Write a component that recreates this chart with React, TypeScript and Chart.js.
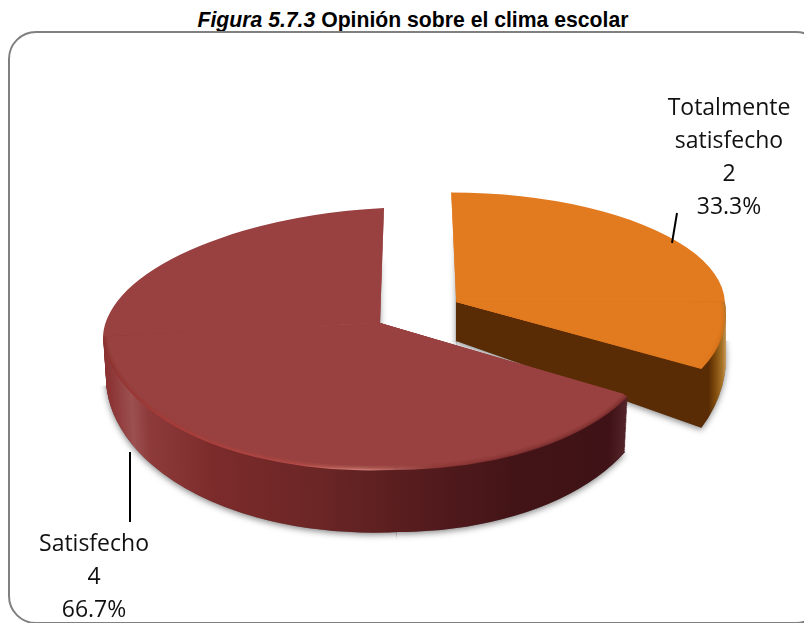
import React, { useEffect, useRef } from "react";
import { Chart, registerables } from "chart.js";

Chart.register(...registerables);

const categories = [["Totalmente", "satisfecho"], ["Satisfecho"]];
const values = [2, 4];
const faceColors = ["#e27a20", "#984140"];
const explode = [88, 0];

const WIDTH = 804;
const HEIGHT = 623;
const TILT = 0.477;
const RADIUS = 277;

type Stop = [number, string];
interface Camera {
  radiusX: number;
  topY: number;
  faceY: number;
  wallY: number;
  apexDepth: number;
  shearTop: number;
  shearBottom: number;
  leftSkew: number;
  wallNarrow: number;
  wallStops: Stop[];
  rimStops: Stop[];
}

const cameras: Camera[] = [
  {
    radiusX: 0.97, topY: 0.395, faceY: 0.484, wallY: 0.626, apexDepth: 39,
    shearTop: 0.018, shearBottom: 0.09, leftSkew: 0, wallNarrow: 0,
    wallStops: [[456, "#5a2c05"], [698, "#5a2c05"], [706, "#7e4a0c"], [716, "#a87428"], [726, "#d8b080"]],
    rimStops: [[456, "#e27a20"], [690, "#e27a20"], [712, "#d07018"], [726, "#b07830"]],
  },
  {
    radiusX: 1, topY: 0.415, faceY: 0.53, wallY: 0.578, apexDepth: 49,
    shearTop: -0.0144, shearBottom: 0.058, leftSkew: -0.05, wallNarrow: 0.012,
    wallStops: [[103, "#8a3030"], [125, "#9c5050"], [140, "#8e3a3a"], [200, "#7c2b2b"], [300, "#6c2626"], [400, "#561c1e"], [500, "#431417"], [600, "#3e1216"], [628, "#5e2c32"]],
    rimStops: [[103, "#8a2f2e"], [150, "#a83a38"], [290, "#b84e4a"], [345, "#d4857c"], [420, "#8c3636"], [520, "#7a2c2e"], [628, "#762a2c"]],
  },
];

const labelBlocks = [
  { x: 729, y: 108, lead: [677, 213, 672, 243] },
  { x: 94, y: 544, lead: [130, 452, 130, 522] },
];
const LINE_STEP = 33;
const BACK_WALL_INSET = 0.98;

const pie3d = {
  id: "pie3d",
  beforeDatasetDraw(chart: any) {
    const ctx: CanvasRenderingContext2D = chart.ctx;
    const arcs = chart.getDatasetMeta(0).data;
    const hGrad = (stops: Stop[], ox: number, sx: number) => {
      const x0 = stops[0][0];
      const x1 = stops[stops.length - 1][0];
      const g = ctx.createLinearGradient((x0 - ox) / sx, 0, (x1 - ox) / sx, 0);
      stops.forEach(([x, c]) => g.addColorStop((x - x0) / (x1 - x0), c));
      return g;
    };
    arcs.forEach((arc: any, i: number) => {
      const cam = cameras[i];
      const mid = (arc.startAngle + arc.endAngle) / 2;
      const ax = arc.x;
      const ay = arc.y;
      const px = ax + Math.cos(mid) * explode[i];
      const py = ay + TILT * Math.sin(mid) * explode[i];
      const saved = arc.options;
      const paint = (fill: any, depth: number, sx: number, syTop: number, syBottom: number, rows: number[], topShear = cam.shearTop, topInset = 1) => {
        const override = Object.create(saved);
        Object.defineProperty(override, "backgroundColor", { value: fill });
        Object.defineProperty(override, "borderWidth", { value: 0 });
        arc.options = override;
        rows.forEach((row) => {
          [0, 1].forEach((col) => {
            const sy = row === 0 ? syTop * topInset : syBottom;
            const sh = row === 0 ? topShear : cam.shearBottom;
            const skew = col === 0 ? cam.leftSkew : 0;
            const rowSx = row === 0 ? sx * topInset : sx;
            ctx.save();
            // maps chart x,y to the tilted picture: a different slope per quadrant round the apex
            ctx.transform(rowSx, skew, sh, sy, px - rowSx * ax - sh * ay, py + depth - sy * ay - skew * ax);
            ctx.beginPath();
            const margin = 1000;
            const x0 = col === 0 ? ax - margin : ax - 0.5;
            const y0 = row === 0 ? ay - margin : ay - 0.5;
            ctx.rect(x0, y0, margin + 0.5, margin + 0.5);
            ctx.clip();
            arc.draw(ctx);
            ctx.restore();
          });
        });
        arc.options = saved;
      };
      const sxFace = cam.radiusX;
      const steps = Math.round(cam.apexDepth);
      const wall = hGrad(cam.wallStops, px - sxFace * ax, sxFace);
      ctx.save();
      ctx.shadowColor = "rgba(70,70,70,0.65)";
      ctx.shadowBlur = 6;
      ctx.shadowOffsetY = 2;
      paint("#777", cam.apexDepth, sxFace * (1 - cam.wallNarrow), cam.topY, cam.wallY, [0, 1], 0, BACK_WALL_INSET);
      ctx.restore();
      for (let s = steps; s >= 0; s--) {
        const t = s / steps;
        paint(wall, t * cam.apexDepth, sxFace * (1 - t * cam.wallNarrow), cam.topY, cam.faceY + t * (cam.wallY - cam.faceY), [0, 1], 0, BACK_WALL_INSET);
      }
      const rim = hGrad(cam.rimStops, px - sxFace * ax, sxFace);
      paint(faceColors[i], 0, sxFace, cam.topY, cam.faceY, [0]);
      paint(rim, 0, sxFace, cam.topY, cam.faceY, [1]);
      const layers = 5;
      for (let l = 1; l <= layers; l++) {
        ctx.save();
        ctx.globalAlpha = l === layers ? 1 : 0.35;
        const f = l / layers;
        paint(faceColors[i], 0, sxFace * (1 - 0.016 * f), cam.topY, cam.faceY * (1 - 0.032 * f), [1]);
        ctx.restore();
      }
    });
    return false;
  },
  afterDraw(chart: any) {
    const ctx: CanvasRenderingContext2D = chart.ctx;
    const total = values.reduce((a, b) => a + b, 0);
    ctx.save();
    ctx.fillStyle = "#111";
    ctx.strokeStyle = "#000";
    ctx.lineWidth = 2;
    ctx.font = '23px "Open Sans"';
    ctx.textAlign = "center";
    ctx.textBaseline = "middle";
    categories.forEach((cat, i) => {
      const b = labelBlocks[i];
      const lines = [...cat, String(values[i]), ((values[i] / total) * 100).toFixed(1) + "%"];
      lines.forEach((line, j) => ctx.fillText(line, b.x, b.y + j * LINE_STEP));
      ctx.beginPath();
      ctx.moveTo(b.lead[0], b.lead[1]);
      ctx.lineTo(b.lead[2], b.lead[3]);
      ctx.stroke();
    });
    ctx.restore();
  },
};

export default function App() {
  const ref = useRef<HTMLCanvasElement>(null);
  useEffect(() => {
    document.body.style.margin = "0";
    const chart = new Chart(ref.current as HTMLCanvasElement, {
      type: "pie",
      data: {
        labels: categories.map((c) => c.join(" ")),
        datasets: [{ data: values, backgroundColor: faceColors, borderWidth: 0 }],
      },
      options: {
        responsive: false,
        animation: false,
        radius: RADIUS,
        rotation: 0,
        events: [],
        layout: { padding: { right: 44, top: 23 } },
        plugins: { legend: { display: false }, tooltip: { enabled: false } },
      } as any,
      plugins: [pie3d as any],
    });
    return () => chart.destroy();
  }, []);
  return (
    <div style={{ position: "fixed", left: 0, top: 0, width: WIDTH, height: HEIGHT, overflow: "hidden", background: "#fff" }}>
      <div
        style={{
          position: "absolute", left: 0, top: 11, width: 826, textAlign: "center",
          font: 'bold 21.2px "Liberation Sans"', color: "#000", lineHeight: "18px", whiteSpace: "nowrap",
        }}
      >
        <i>Figura 5.7.3</i> Opinión sobre el clima escolar
      </div>
      <div
        style={{
          position: "absolute", left: 8, top: 31, width: 812, height: 589,
          border: "2px solid #808080", borderRadius: 28, boxSizing: "content-box",
        }}
      />
      <canvas ref={ref} width={WIDTH} height={HEIGHT} style={{ position: "absolute", left: 0, top: 0, display: "block" }} />
    </div>
  );
}
